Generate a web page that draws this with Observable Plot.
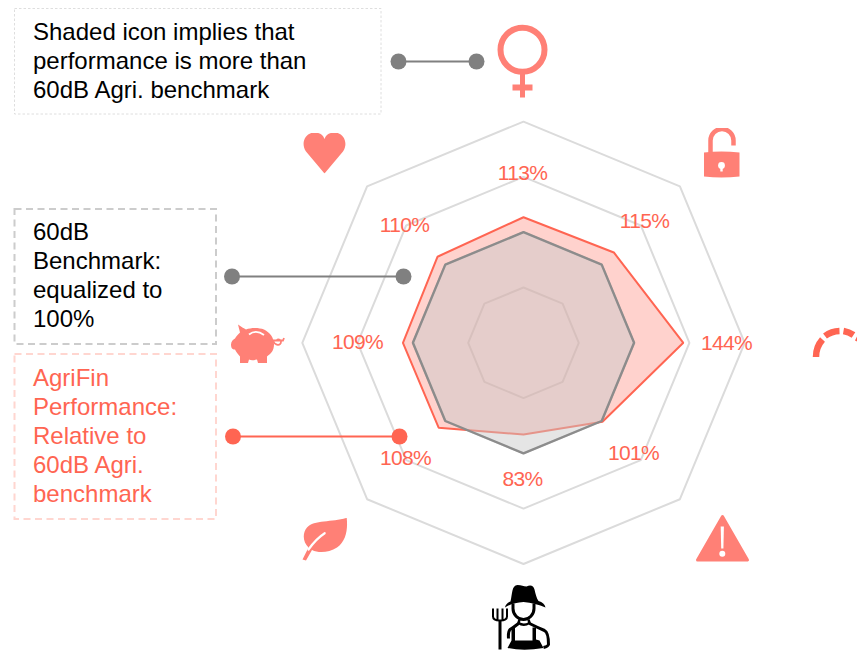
<!DOCTYPE html>
<html>
<head>
<meta charset="utf-8">
<script src="https://cdn.jsdelivr.net/npm/d3@7"></script>
<script src="https://cdn.jsdelivr.net/npm/@observablehq/plot@0.6"></script>
<style>
html,body{margin:0;padding:0;background:#fff}
svg{display:block;font-family:"Liberation Sans",Arial,sans-serif}
.pct text{letter-spacing:-.7px}
</style>
</head>
<body>
<div id="chart"></div>
<script>
// --- values
const axes = ["gender","access","gauge","risk","farmer","environment","savings","health"];
const agrifin = [113.5,115.5,144.5,101,83,108.5,109,110];
const labels = ["113%","115%","144%","101%","83%","108%","109%","110%"];
const benchmark = [100,100,100,100,100,100,100,100];
const gridLevels = [50,100,150,200];
const noteShaded = "Shaded icon implies that\nperformance is more than\n60dB Agri. benchmark";
const noteBench = "60dB\nBenchmark:\nequalized to\n100%";
const noteAgri = "AgriFin\nPerformance:\nRelative to\n60dB Agri.\nbenchmark";

// --- layout
const W = 857, H = 650, CX = 523, CY = 342.3, U = 1.106;
const RED = "#ff6552", ICON = "#ff8076";
const X = px => (px - CX) / U, Y = px => (CY - px) / U;
const polar = (v, i) => ({
  x: v * Math.sin(i * Math.PI * 2 / axes.length),
  y: v * Math.cos(i * Math.PI * 2 / axes.length)
});
const ring = vals => vals.map((v, i) => polar(v, i));
const gridData = gridLevels.flatMap(l => ring(axes.map(() => l)).map(p => ({...p, level: l})));
const labelPx = [[522,173],[644,221],[726,343],[633,453],[522,479],[405,458],[357,342],[404,225]];
const labelData = labels.map((t, i) => ({t, x: X(labelPx[i][0]), y: Y(labelPx[i][1])}));

const box = (x1, x2, y1, y2) => [{x1: X(x1), x2: X(x2), y1: Y(y1), y2: Y(y2)}];
const leader = (x1, x2, y) => [{x: X(x1), y: Y(y)}, {x: X(x2), y: Y(y)}];
const at = (x, y, t) => [{x: X(x), y: Y(y), t}];

// --- icons (glyph artwork placed through the scales)
const svgUri = (w, h, body) => "data:image/svg+xml," + encodeURIComponent(
  `<svg xmlns="http://www.w3.org/2000/svg" width="${w}" height="${h}" viewBox="0 0 ${w} ${h}">${body}</svg>`);
const iconBodies = [
 {l:492,t:15,w:60,h:85,body:`<circle cx="30" cy="34.3" r="22" fill="none" stroke="${ICON}" stroke-width="6"/>
   <rect x="27.5" y="58" width="5" height="24" fill="${ICON}"/><rect x="20" y="69" width="20" height="6" fill="${ICON}"/>`},
 {l:703,t:127,w:37,h:51,body:`<path d="M0 25 Q18 23 36 25 V49 Q18 51 0 49 Z" fill="${ICON}"/>
   <path d="M7 26 V13 A11.5 11.5 0 0 1 30 13 V18" fill="none" stroke="${ICON}" stroke-width="4.5"/>
   <circle cx="18" cy="38" r="3.4" fill="#fff"/><rect x="16.8" y="38" width="2.4" height="6" fill="#fff"/>`},
 {l:695,t:513,w:54,h:49,body:`<path d="M27 3 L52 46.5 H2 Z" fill="${ICON}" stroke="${ICON}" stroke-width="3" stroke-linejoin="round"/>
   <path d="M25.2 13 H28.4 L27.9 35 H25.7 Z" fill="#fff"/><circle cx="26.8" cy="40.2" r="3" fill="#fff"/>`},
 {l:490,t:584,w:60,h:66,body:`<g transform="translate(-5,-4)">
   <path d="M25 21 C27 13 26 5 32 4.5 C36 4.5 38 6 41 6 C45 4 48 5 49 9 C50 13 51 18 53 20.5 Q59 22 60 27 Q50 22.5 38 21.5 Q27 22 19.5 27 Q20 23 25 21 Z" fill="#000"/>
   <path d="M27.5 23 V28 A10.5 11 0 0 0 48.5 28 V23" fill="none" stroke="#000" stroke-width="3"/>
   <path d="M34 39 L33 42.5 Q38 46 44 42.5 L43 39" fill="none" stroke="#000" stroke-width="2.6"/>
   <path d="M33 43 Q28 47 24.5 49 Q22.5 51 23 58 M44 43 Q52 47 59 50 Q63 52 63 64 Q62.5 66 58 67" fill="none" stroke="#000" stroke-width="3"/>
   <path d="M26 47 H29.5 V60 H47 V47 H50.5 V59 L54 60 L58 67.5 Q38 71 22 67.5 L26 60 Z" fill="#000"/>
   <path d="M7.5 28 V36 Q7.5 40 14.5 40 Q21.5 40 21.5 36 V28 M12 28 V40 M17 28 V40" fill="none" stroke="#000" stroke-width="2"/>
   <rect x="13" y="40" width="3" height="29" fill="#000"/></g>`},
 {l:300.5,t:517,w:47,h:44,body:`<path d="M45.7 .3 C47 12 45 24 36 30 C28 35 18 36 11 32.5 L5 43 L1.5 42 L7.5 30 C2 25 1 16 6 10 C13 2 32 5 45.7 .3 Z" fill="${ICON}"/>
   <path d="M23.7 15.7 C17 20 11 27 7.5 32" fill="none" stroke="#fff" stroke-width="2.2" stroke-linecap="round"/>`},
 {l:230.5,t:323,w:54,h:41,body:`<path d="M7 1 C10 3 13 5 15 6 C20 4 28 4 33 6 C39 9 43 14 43 21 C43 27 40 30 36 33 L36 39.5 H27 L26 36 C22 37 20 37 18 36 L17 39.5 H9 L9 33 C7 31 5 28 4 26 C1 26 0 24 0 21 C0 18 2 16 4 15 C5 13 7 11 9 9 Z" fill="${ICON}"/>
   <path d="M18 11 Q25 5.5 33 11.5" fill="none" stroke="#fff" stroke-width="1.8"/>
   <path d="M42 17 H52 L53 14.5 M42 17.5 C44 22 50 23 50 18 C50 16 47 15 45.5 17" fill="none" stroke="${ICON}" stroke-width="1.8"/>`},
 {l:302.5,t:132,w:43,h:41,body:`<path d="M21.5 41 L3 19 C-3 10 3 0 11.5 0 C16 0 20 2 21.5 6.5 C23 2 27 0 31.5 0 C40 0 46 10 40 19 Z" fill="${ICON}"/>`},
 {l:804.5,t:320,w:52.5,h:45,body:`<g fill="none" stroke="${RED}" stroke-width="6.5">
   <path d="M11 36.5 A26 26 0 0 1 17.5 19"/><path d="M20 15.5 A26 26 0 0 1 34.5 10.5"/><path d="M38.5 10.5 A26 26 0 0 1 48.5 14.5"/><path d="M51.5 17 A26 26 0 0 1 56 20"/></g>`}
];
const iconData = iconBodies.map(d => ({x: X(d.l + d.w / 2), y: Y(d.t + d.h / 2), w: d.w, h: d.h, src: svgUri(d.w, d.h, d.body)}));

const noteText = (txt, x, y, fill) => Plot.text(at(x, y, txt), {
  x: "x", y: "y", text: "t", textAnchor: "start", lineAnchor: "middle",
  fontSize: 24, lineHeight: 29 / 24, fill
});

const chart = Plot.plot({
  width: W, height: H, margin: 0,
  x: {domain: [X(0), X(W)], range: [0, W], axis: null},
  y: {domain: [Y(0), Y(H)], range: [0, H], axis: null},
  marks: [
    Plot.line(gridData, {x: "x", y: "y", z: "level", curve: "linear-closed", stroke: "#dbdbdb", strokeWidth: 2, strokeLinejoin: "miter"}),
    Plot.line(ring(agrifin), {x: "x", y: "y", curve: "linear-closed", fill: RED, fillOpacity: .29, stroke: RED, strokeWidth: 2, strokeLinejoin: "miter"}),
    Plot.line(ring(benchmark), {x: "x", y: "y", curve: "linear-closed", fill: "#c8c8c8", fillOpacity: .48, stroke: "#8c8c8c", strokeWidth: 2.4, strokeLinejoin: "miter"}),
    Plot.rect(box(14.5, 381, 8.5, 114), {x1: "x1", x2: "x2", y1: "y1", y2: "y2", fill: "none", stroke: "#dedede", strokeWidth: 1, strokeDasharray: "2.5 2"}),
    Plot.rect(box(14.5, 216, 209, 344), {x1: "x1", x2: "x2", y1: "y1", y2: "y2", fill: "none", stroke: "#cccccc", strokeWidth: 2, strokeDasharray: "7 4.5"}),
    Plot.rect(box(14.5, 216, 354, 519), {x1: "x1", x2: "x2", y1: "y1", y2: "y2", fill: "none", stroke: "#ffd6d0", strokeWidth: 2, strokeDasharray: "7 4.5"}),
    noteText(noteShaded, 32.5, 59.5, "#000"),
    noteText(noteBench, 32.5, 274, "#000"),
    noteText(noteAgri, 32.5, 434.5, RED),
    Plot.line(leader(398, 476, 61), {x: "x", y: "y", stroke: "#808080", strokeWidth: 2}),
    Plot.dot(leader(398, 476, 61), {x: "x", y: "y", r: 8, fill: "#808080"}),
    Plot.line(leader(231.5, 403, 276), {x: "x", y: "y", stroke: "#808080", strokeWidth: 2}),
    Plot.dot(leader(231.5, 403, 276), {x: "x", y: "y", r: 8, fill: "#808080"}),
    Plot.line(leader(232.5, 399, 436), {x: "x", y: "y", stroke: RED, strokeWidth: 2}),
    Plot.dot(leader(232.5, 399, 436), {x: "x", y: "y", r: 8, fill: RED}),
    Plot.text(labelData, {x: "x", y: "y", text: "t", fill: RED, fontSize: 21, className: "pct"}),
    Plot.image(iconData, {x: "x", y: "y", width: "w", height: "h", src: "src"})
  ]
});
document.getElementById("chart").append(chart);
</script>
</body>
</html>
